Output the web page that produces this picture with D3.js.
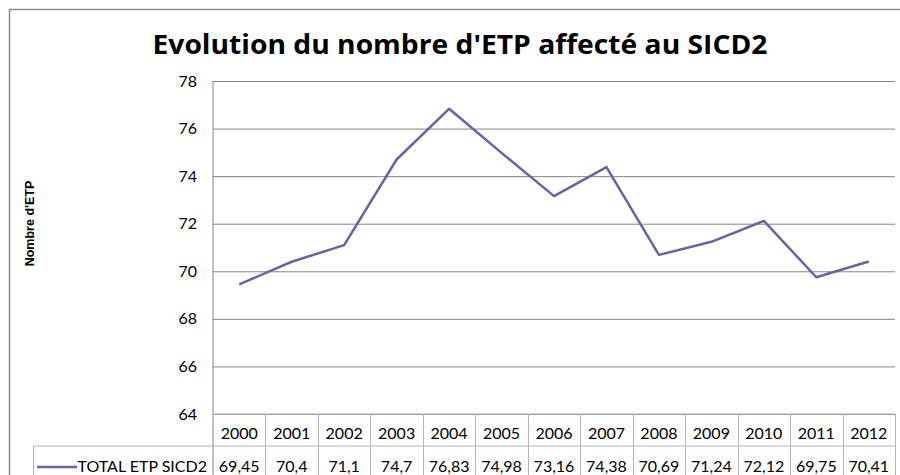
<!DOCTYPE html>
<html>
<head>
<meta charset="utf-8">
<script src="https://cdn.jsdelivr.net/npm/d3@7"></script>
<style>
  body { margin: 0; background: #fff; }
  svg { display: block; }
  .tick line { stroke: #868686; }
</style>
</head>
<body>
<div id="chart"></div>
<script>
// chart data
var years = ["2000", "2001", "2002", "2003", "2004", "2005", "2006", "2007", "2008", "2009", "2010", "2011", "2012"];
var values = [69.45, 70.4, 71.1, 74.7, 76.83, 74.98, 73.16, 74.38, 70.69, 71.24, 72.12, 69.75, 70.41];
var valueLabels = ["69,45", "70,4", "71,1", "74,7", "76,83", "74,98", "73,16", "74,38", "70,69", "71,24", "72,12", "69,75", "70,41"];
var yTicks = [64, 66, 68, 70, 72, 74, 76, 78];
var seriesName = "TOTAL ETP SICD2";

const width = 900, height = 475;
const font = "Lato, 'Open Sans', sans-serif";
const lineColor = "#6464a6";
const tableColor = "#b4b4b4";

const plotLeft = 213, plotRight = 895, plotTop = 81, plotBottom = 414;
const rowH = 32;

var svg = d3.select("#chart")
    .append("svg")
    .attr("width", width)
    .attr("height", height);

// outer chart frame (goes past the window on right and bottom)
svg.append("rect")
    .attr("x", 9.5).attr("y", 9.5)
    .attr("width", 960).attr("height", 520)
    .attr("fill", "#fff")
    .attr("stroke", "#8c8c8c")
    .attr("stroke-width", 1.5);

svg.append("text")
    .attr("x", 460).attr("y", 54)
    .attr("text-anchor", "middle")
    .attr("textLength", 615)
    .attr("lengthAdjust", "spacingAndGlyphs")
    .style("font-family", "'Open Sans', sans-serif")
    .style("font-weight", "bold")
    .style("font-size", "26px")
    .text("Evolution du nombre d'ETP affecté au SICD2");

const x = d3.scaleBand()
    .domain(years)
    .range([plotLeft, plotRight]);

const y = d3.scaleLinear()
    .domain([64, 78])
    .range([plotBottom, plotTop]);

// gridlines + tick labels
var yAxis = svg.append("g")
    .attr("transform", "translate(" + plotLeft + ",0)")
    .call(d3.axisLeft(y)
        .tickValues(yTicks)
        .tickSizeInner(-(plotRight - plotLeft))
        .tickSizeOuter(0)
        .tickPadding(16)
        .tickFormat(d3.format("d")));
yAxis.select(".domain").remove();
yAxis.selectAll("text")
    .style("font-family", font)
    .style("font-size", "16px")
    .attr("fill", "#000");

// left axis line
svg.append("line")
    .attr("x1", plotLeft).attr("x2", plotLeft)
    .attr("y1", plotTop).attr("y2", height + 10)
    .attr("stroke", "#868686");

svg.append("text")
    .attr("transform", "translate(34," + ((plotTop + plotBottom) / 2 - 24) + ") rotate(-90)")
    .attr("text-anchor", "middle")
    .style("font-family", "'Liberation Sans', Arial, sans-serif")
    .style("font-weight", "bold")
    .style("font-size", "12.5px")
    .text("Nombre d'ETP");

// data table below the plot
var table = svg.append("g").attr("id", "table");

table.append("line")
    .attr("x1", plotLeft).attr("x2", plotRight)
    .attr("y1", plotBottom).attr("y2", plotBottom)
    .attr("stroke", tableColor);
table.append("line")
    .attr("x1", 33).attr("x2", plotRight)
    .attr("y1", plotBottom + rowH).attr("y2", plotBottom + rowH)
    .attr("stroke", tableColor);
table.append("line")
    .attr("x1", 33.5).attr("x2", 33.5)
    .attr("y1", plotBottom + rowH).attr("y2", height + 10)
    .attr("stroke", tableColor);

table.selectAll("line.sep")
    .data(years)
    .enter()
    .append("line")
    .attr("class", "sep")
    .attr("x1", function (d) { return Math.round(x(d) + x.bandwidth()) + 0.5; })
    .attr("x2", function (d) { return Math.round(x(d) + x.bandwidth()) + 0.5; })
    .attr("y1", plotBottom)
    .attr("y2", height + 10)
    .attr("stroke", tableColor);

table.selectAll("text.year")
    .data(years)
    .enter()
    .append("text")
    .attr("class", "year")
    .attr("x", function (d) { return x(d) + x.bandwidth() / 2; })
    .attr("y", plotBottom + 25)
    .attr("text-anchor", "middle")
    .style("font-family", font)
    .style("font-size", "16px")
    .text(function (d) { return d; });

table.selectAll("text.val")
    .data(valueLabels)
    .enter()
    .append("text")
    .attr("class", "val")
    .attr("x", function (d, i) { return x(years[i]) + x.bandwidth() / 2; })
    .attr("y", plotBottom + rowH + 26)
    .attr("text-anchor", "middle")
    .style("font-family", font)
    .style("font-size", "16px")
    .text(function (d) { return d; });

// legend key in the table
table.append("line")
    .attr("x1", 37).attr("x2", 77)
    .attr("y1", plotBottom + rowH + 21).attr("y2", plotBottom + rowH + 21)
    .attr("stroke", lineColor)
    .attr("stroke-width", 2.5);
table.append("text")
    .attr("x", 207)
    .attr("y", plotBottom + rowH + 26)
    .attr("text-anchor", "end")
    .style("font-family", font)
    .style("font-size", "16px")
    .text(seriesName);

// series line
const line = d3.line()
    .x(function (d, i) { return x(years[i]) + x.bandwidth() / 2; })
    .y(function (d) { return y(d); });

svg.append("path")
    .datum(values)
    .attr("d", line)
    .attr("fill", "none")
    .attr("stroke", lineColor)
    .attr("stroke-width", 2.5)
    .attr("stroke-linejoin", "round");
</script>
</body>
</html>
